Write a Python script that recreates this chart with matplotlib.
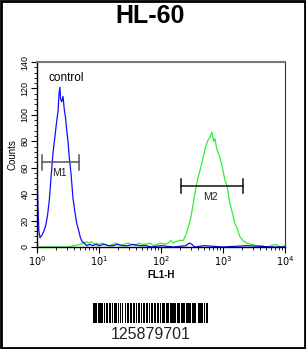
import matplotlib

matplotlib.use("Agg")
import matplotlib.pyplot as plt
import numpy as np
from matplotlib.patches import Rectangle
from matplotlib.ticker import FixedLocator, LogLocator, NullFormatter


TITLE = "HL-60"
BARCODE_TEXT = "125879701"

# control histogram (blue): log10(FL1-H) positions and counts
control_log = [
    0.000, 0.008, 0.016, 0.030, 0.048, 0.08, 0.11, 0.14, 0.17, 0.20,
    0.23, 0.26, 0.29, 0.32, 0.34, 0.355, 0.37, 0.38, 0.40, 0.42,
    0.44, 0.46, 0.48, 0.50, 0.52, 0.55, 0.58, 0.61, 0.64, 0.67,
    0.70, 0.73, 0.76, 0.80, 0.85, 0.90, 0.95, 1.00, 1.08, 1.15,
    1.22, 1.30, 1.38, 1.46, 1.55, 1.65, 1.75, 1.85, 2.00, 2.20,
    2.40, 2.46, 2.50, 2.54, 2.70, 3.00, 3.40, 3.80, 4.00,
]
control_counts = [
    60, 44, 30, 12, 7, 9, 12, 16, 24, 36,
    55, 72, 84, 96, 103, 116, 121, 112, 110, 114,
    104, 98, 88, 80, 68, 55, 37, 27, 18, 13,
    7, 4, 3, 1, 2, 1, 2, 1, 2, 1,
    1, 2, 1, 1, 2, 1, 1, 0, 1, 0,
    1, 3, 2, 0, 1, 0, 1, 0, 0,
]

# stained sample histogram (green)
sample_log = [
    0.00, 0.30, 0.50, 0.60, 0.70, 0.75, 0.80, 0.84, 0.88, 0.92,
    0.96, 1.00, 1.05, 1.10, 1.16, 1.22, 1.28, 1.34, 1.40, 1.46,
    1.52, 1.58, 1.64, 1.70, 1.76, 1.82, 1.88, 1.94, 2.00, 2.06,
    2.12, 2.16, 2.19, 2.24, 2.30, 2.36, 2.40, 2.44, 2.48, 2.52,
    2.56, 2.60, 2.64, 2.68, 2.72, 2.76, 2.79, 2.82, 2.85, 2.87,
    2.90, 2.95, 2.99, 3.03, 3.07, 3.11, 3.15, 3.19, 3.23, 3.27,
    3.32, 3.38, 3.46, 3.54, 3.62, 3.70, 3.78, 3.86, 3.92, 4.00,
]
sample_counts = [
    0, 0, 0, 1, 2, 3, 4, 3, 4, 2,
    3, 2, 3, 2, 1, 2, 3, 1, 2, 3,
    2, 1, 3, 2, 2, 3, 1, 2, 3, 2,
    3, 5, 3, 4, 5, 5, 9, 15, 22, 33,
    44, 53, 60, 68, 76, 81, 83, 87, 80, 82,
    74, 68, 60, 51, 45, 33, 26, 18, 14, 8,
    5, 3, 2, 1, 1, 0, 1, 2, 0, 1,
]

# gates: (label, log start, log end, count level, colour)
gate_labels = ["M1", "M2"]
gate_start = [0.076, 2.32]
gate_end = [0.68, 3.33]
gate_level = [64, 46]
gate_colors = ["#555555", "#111111"]

# barcode module widths, alternating bar / space
barcode_modules = [
    3, 1, 1, 1, 3, 1, 2, 1, 1, 1, 3, 1, 2, 1, 2, 1, 3, 1,
    2, 1, 1, 1, 2, 2, 1, 1, 3, 1, 2, 1, 3, 1, 1, 1, 2, 2,
    1, 1, 3, 1, 2, 1, 1, 2, 2, 1, 3, 1, 2, 1, 1, 2, 3, 1,
    1, 1, 2, 1, 3, 1, 3, 1, 1, 1, 2, 1, 3, 1, 1, 1, 3, 1,
    2, 1, 3, 1, 1, 2, 2, 1, 3, 1, 1, 1, 3,
]


def main() -> None:
    fig = plt.figure(figsize=(3.06, 3.49), dpi=100)
    plt.rcParams["font.family"] = ["Liberation Sans", "DejaVu Sans"]

    fig.add_artist(Rectangle((0.002, 0.002), 0.996, 0.996, transform=fig.transFigure,
                             fill=False, edgecolor="black", linewidth=2))
    fig.text(0.492, 0.955, TITLE, ha="center", va="center", fontsize=18, fontweight="bold")

    ax = fig.add_axes([0.1209, 0.2923, 0.8105, 0.530])
    ax.plot(10 ** np.array(sample_log), sample_counts, color="#33ee33", linewidth=0.9)
    ax.plot(10 ** np.array(control_log), control_counts, color="#1010ff", linewidth=0.9)

    for label, start, end, level, color in zip(gate_labels, gate_start, gate_end, gate_level, gate_colors):
        x0, x1 = 10 ** start, 10 ** end
        ax.plot([x0, x1], [level, level], color=color, linewidth=1.1)
        ax.plot([x0, x0], [level - 5.5, level + 5.5], color=color, linewidth=1.1)
        ax.plot([x1, x1], [level - 5.5, level + 5.5], color=color, linewidth=1.1)
        mid = 10 ** ((start + end) / 2 - 0.02)
        ax.text(mid, level - 8, label, ha="center", va="center", fontsize=7.5, color="#222222")

    ax.text(10 ** 0.47, 128, "control", ha="center", va="center", fontsize=8.5)

    ax.set_xscale("log")
    ax.set_xlim(1, 1e4)
    ax.set_ylim(0, 140)
    ax.set_xticks([1, 10, 100, 1000, 10000])
    ax.set_xticklabels([r"$10^{0}$", r"$10^{1}$", r"$10^{2}$", r"$10^{3}$", r"$10^{4}$"])
    ax.xaxis.set_minor_locator(LogLocator(base=10, subs=np.arange(2, 10)))
    ax.xaxis.set_minor_formatter(NullFormatter())
    ax.set_yticks(np.arange(0, 141, 20))
    ax.yaxis.set_minor_locator(FixedLocator(np.arange(0, 141, 4)))
    ax.tick_params(axis="x", which="major", length=4, width=0.8, labelsize=7, pad=1.5)
    ax.tick_params(axis="y", which="major", length=4, width=0.8, labelsize=6.5, pad=1.5)
    ax.tick_params(axis="both", which="minor", length=2, width=0.6)
    for lbl in ax.get_yticklabels():
        lbl.set_rotation(90)
        lbl.set_va("center")
    ax.set_xlabel("FL1-H", fontsize=7, fontweight="bold", labelpad=1)
    ax.set_ylabel("Counts", fontsize=7, labelpad=2)

    ax.spines["top"].set_color("#777777")
    ax.spines["top"].set_linewidth(1.5)
    ax.spines["right"].set_color("#333333")
    ax.spines["left"].set_linewidth(1.0)
    ax.spines["bottom"].set_linewidth(1.0)

    bax = fig.add_axes([0.304, 0.0745, 0.376, 0.057])
    edges = np.concatenate([[0], np.cumsum(barcode_modules)])
    bar_left = edges[:-1][::2]
    bar_width = np.array(barcode_modules[::2])
    bax.bar(bar_left, np.ones(len(bar_left)), width=bar_width, align="edge", color="black", linewidth=0)
    bax.set_xlim(0, edges[-1])
    bax.set_ylim(0, 1)
    bax.axis("off")
    fig.text(0.492, 0.0287, BARCODE_TEXT, ha="center", va="baseline", fontsize=11.5, color="#222222")

    fig.savefig("out.png", dpi=100)
    plt.close(fig)


if __name__ == "__main__":
    main()
